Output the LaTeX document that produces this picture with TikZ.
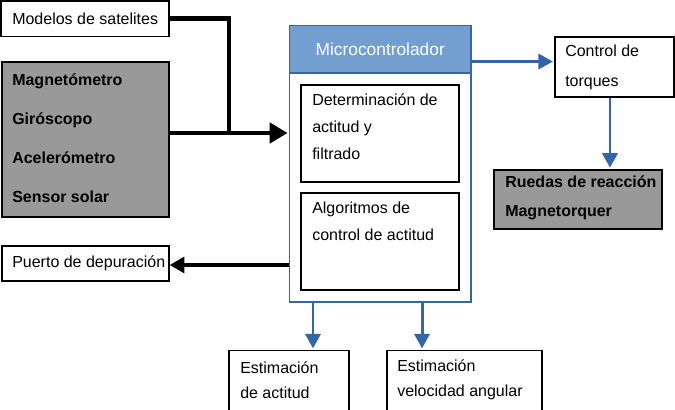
\documentclass[tikz,border=0pt]{standalone}
\usepackage{fontspec}
\setmainfont{Liberation Sans}
\usetikzlibrary{arrows.meta,fit}
\definecolor{grisbloc}{HTML}{999999}
\definecolor{azulcab}{HTML}{729FCF}
\definecolor{azulbor}{HTML}{3465A4}
\tikzset{
  bloque/.style = {draw=black, line width=1.1pt, inner sep=0pt},
  bloque_g/.style = {bloque, fill=grisbloc, line width=1.4pt},% bloque gris
  bloque_n/.style = {bloque, line width=1.5pt},% bloque interno
  texto/.style = {anchor=west, align=left, inner sep=0pt,
    font=\fontsize{12}{#1}\selectfont},
  texto/.default = 14.4,
  texto_b/.style = {anchor=west, align=left, inner sep=0pt,
    font=\fontsize{12}{#1}\selectfont\bfseries},% texto negrita
  flecha_n/.style = {line width=3.4pt, -{Triangle[length=13.5pt, width=15pt]}},
  flecha_b/.style = {draw=azulbor, line width=2.2pt,
    -{Triangle[length=11pt, width=11.5pt]}}
}
\begin{document}
\begin{tikzpicture}[x=0.75pt, y=-0.75pt]
  \useasboundingbox (0,0) rectangle (675,410);
  % entradas
  \node [bloque, fit={(1,1) (169,36.5)}] (modelos) {};
  \node [texto] at (12,19) {Modelos de satelites};
  \node [bloque_g, fit={(2,62) (169,217)}] (sensores) {};
  \node [texto_b=29.2] at (12,138.5)
    {Magnetómetro\\Giróscopo\\Acelerómetro\\Sensor solar};
  \node [bloque, fit={(2,246) (169,281)}] (puerto) {};
  \node [texto] at (12,263.5) {Puerto de depuración};
  % microcontrolador
  \node [draw=azulbor, line width=0.8pt, inner sep=0pt,
    fit={(289.5,25.5) (471,302)}] (micro) {};
  \node [draw=azulbor, line width=0.8pt, fill=azulcab, inner sep=0pt,
    fit={(289.5,25.5) (471,73)}] (cabecera) {};
  \node [white, font=\fontsize{13}{15}\selectfont] at (cabecera.center) {Microcontrolador};
  \node [bloque_n, fit={(301,85) (458.5,181.5)}] (determ) {};
  \node [texto=20.3] at (312,127) {Determinación de\\actitud y\\filtrado};
  \node [bloque_n, fit={(301,193) (458.5,290)}] (algor) {};
  \node [texto=20.3] at (312,221.5) {Algoritmos de\\control de actitud};
  % salidas
  \node [bloque, fit={(555,37) (674,97)}] (control) {};
  \node [texto=22.5] at (565,67) {Control de\\torques};
  \node [bloque_g, fit={(494,170) (662,229)}] (ruedas) {};
  \node [texto_b=21.8] at (505,198) {Ruedas de reacción\\Magnetorquer};
  \node [bloque, fit={(229,350.5) (349,413)}] (estact) {};
  \node [texto=18.8] at (240,380) {Estimación\\de actitud};
  \node [bloque, fit={(387,350.5) (542,413)}] (estvel) {};
  \node [texto=18.8] at (397,380) {Estimación\\velocidad angular};
  % conexiones
  \coordinate (union) at (229,133);
  \draw [line width=3.4pt] (modelos.east) -| (union);
  \draw [flecha_n] (sensores.east |- union) -- (union) -- ([xshift=-1pt]micro.west |- union);
  \draw [line width=2.3pt, -{Triangle[length=11pt, width=12pt]}]
    (micro.west |- 0,265) -- (puerto.east |- 0,265);
  \draw [flecha_b] ([yshift=9pt]cabecera.south east) coordinate (hs) -- ([xshift=-1pt]control.west |- hs);
  \draw [flecha_b] ([xshift=-3.4pt]control.south) coordinate (cs) -- ([yshift=1pt]cs |- ruedas.north);
  \draw [flecha_b] ([xshift=18pt]micro.south west) coordinate (m1) -- ([yshift=1pt]m1 |- estact.north);
  \draw [flecha_b] ([xshift=99.8pt]micro.south west) coordinate (m2) -- ([yshift=1pt]m2 |- estvel.north);
\end{tikzpicture}
\end{document}
